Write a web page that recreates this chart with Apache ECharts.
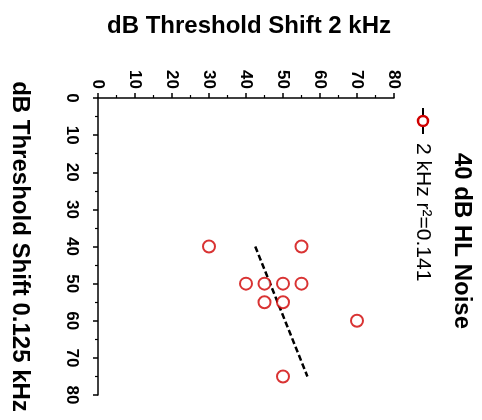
<!DOCTYPE html>
<html>
<head>
<meta charset="utf-8">
<script src="https://cdn.jsdelivr.net/npm/echarts@6/dist/echarts.min.js"></script>
<style>
  html, body { margin: 0; padding: 0; background: #fff; }
  #chart { width: 482px; height: 420px; }
</style>
</head>
<body>
<div id="chart"></div>
<script>
// 数据：2 kHz 阈移 (横轴，上方) 对 0.125 kHz 阈移 (纵轴，左侧，向下增长)
const shift2k = [30, 55, 40, 45, 50, 55, 45, 50, 70, 50];
const shift0125 = [40, 40, 50, 50, 50, 50, 55, 55, 60, 75];

// 回归线端点
const fit2k = [42.5, 56.6];
const fit0125 = [40, 75];

const axisTicks = [0, 10, 20, 30, 40, 50, 60, 70, 80];

const seriesName = '2 kHz r²=0.141';
const groupName = '40 dB HL Noise';

const red = '#d00000';
const font = 'Liberation Sans, Arial, Helvetica, sans-serif';

const chart = echarts.init(document.getElementById('chart'));

const points = shift2k.map((v, i) => [v, shift0125[i]]);
const fitLine = fit2k.map((v, i) => [v, fit0125[i]]);

const axisCommon = {
  type: 'value',
  min: axisTicks[0],
  max: axisTicks[axisTicks.length - 1],
  interval: 10,
  nameLocation: 'middle',
  nameTextStyle: { fontSize: 24, fontWeight: 'bold', color: '#000', fontFamily: font },
  axisLine: { show: true, lineStyle: { color: '#000', width: 1.5 } },
  axisTick: { show: true, inside: false, length: 5, lineStyle: { color: '#000', width: 1.5 } },
  minorTick: { show: true, splitNumber: 2, length: 3, lineStyle: { color: '#000', width: 1.2 } },
  splitLine: { show: false },
  axisLabel: { rotate: -90, fontSize: 17, fontWeight: 'bold', color: '#000', fontFamily: font }
};

const option = {
  animation: false,
  backgroundColor: '#fff',
  grid: { left: 96, top: 98, width: 298, height: 297, containLabel: false },
  xAxis: Object.assign({}, axisCommon, {
    position: 'top',
    name: 'dB Threshold Shift 2 kHz',
    nameGap: 60,
    nameTextStyle: Object.assign({}, axisCommon.nameTextStyle, { padding: [0, 0, 0, 6] }),
    axisLabel: Object.assign({}, axisCommon.axisLabel, { margin: 9 })
  }),
  yAxis: Object.assign({}, axisCommon, {
    position: 'left',
    inverse: true,
    name: 'dB Threshold Shift 0.125 kHz',
    nameRotate: -90,
    nameGap: 66,
    axisLabel: Object.assign({}, axisCommon.axisLabel, { margin: 18 })
  }),
  series: [
    {
      name: seriesName,
      type: 'scatter',
      data: points,
      symbol: 'emptyCircle',
      symbolSize: 12,
      itemStyle: { color: red, borderColor: red, borderWidth: 2.5 },
      z: 3
    },
    {
      name: 'fit',
      type: 'line',
      data: fitLine,
      showSymbol: false,
      lineStyle: { color: '#000', width: 2.5, type: [6, 3] },
      z: 2
    }
  ],
  // 图例：整体顺时针旋转 90°
  graphic: [
    {
      type: 'group',
      x: 423,
      y: 121,
      rotation: -Math.PI / 2,
      children: [
        { type: 'line', shape: { x1: -13, y1: 0, x2: 13, y2: 0 }, style: { stroke: '#000', lineWidth: 2 } },
        { type: 'circle', shape: { cx: 0, cy: 0, r: 5 }, style: { fill: '#fff', stroke: red, lineWidth: 2.5 } },
        {
          type: 'text', x: 22, y: 0,
          style: { text: seriesName, fontSize: 21, fontFamily: font, fill: '#000', align: 'left', verticalAlign: 'middle' }
        },
        {
          type: 'text', x: 32, y: -39,
          style: { text: groupName, fontSize: 24, fontWeight: 'bold', fontFamily: font, fill: '#000', align: 'left', verticalAlign: 'middle' }
        }
      ]
    }
  ]
};

chart.setOption(option);
</script>
</body>
</html>
